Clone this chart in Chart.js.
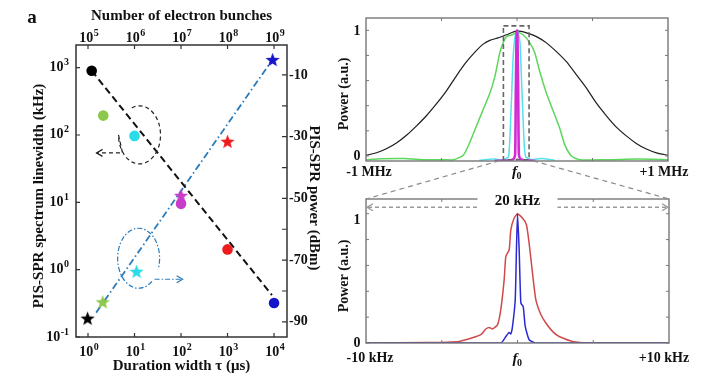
<!DOCTYPE html>
<html><head><meta charset="utf-8">
<script src="https://cdn.jsdelivr.net/npm/chart.js@4.4.0/dist/chart.umd.min.js"></script>
<style>
html,body{margin:0;padding:0;background:#fff;}
#wrap{position:relative;width:701px;height:376px;overflow:hidden;background:#fff;}
#wrap canvas{position:absolute;left:0;top:0;}
</style></head><body>
<div id="wrap">
<canvas id="cLeft" width="701" height="376"></canvas>
<canvas id="cTop" width="701" height="376"></canvas>
<canvas id="cBot" width="701" height="376"></canvas>
</div>
<script>
const FONT = '"Liberation Serif","Times New Roman",serif';

// ---------- Panel a (left) data ----------
const durationCircles = [1.2, 2.13, 10, 100, 1000, 10000];      // τ (µs)
const linewidthKHz   = [900, 194, 97, 9.5, 2.0, 0.32];          // kHz
const durationStars  = [0.98, 2.07, 11.1, 100, 1000, 9300];      // τ (µs)
const powerDBm       = [-88.8, -83.5, -73.6, -49, -31.5, -5];    // dBm
const markerColors   = ['#000000', '#8cc84b', '#2adbe8', '#c83cc8', '#ee1c1c', '#1414c8'];
const linewidthFitX  = [1.2, 9000];
const linewidthFitY  = [900, 0.42];
const powerFitX      = [1.5, 9300];
const powerFitY      = [-87, -5];
const durationTickExp  = [0, 1, 2, 3, 4];
const bunchTickExp     = [5, 6, 7, 8, 9];
const linewidthTickExp = [-1, 0, 1, 2, 3];
const powerTicks       = [-10, -30, -50, -70, -90];
const powerMinorTicks  = [-20, -40, -60, -80];

// ---------- Top-right spectra (MHz offset from f0) ----------
const blackX = [-1.0,-0.93,-0.862,-0.796,-0.73,-0.665,-0.6,-0.53,-0.466,-0.4,-0.334,-0.268,-0.224,-0.18,-0.125,-0.069,0,0.063,0.129,0.195,0.261,0.327,0.394,0.46,0.526,0.592,0.658,0.724,0.79,0.857,0.923,1.0];
const blackY = [0.005,0.026,0.06,0.106,0.167,0.24,0.32,0.42,0.52,0.64,0.75,0.84,0.89,0.92,0.94,0.965,0.995,0.98,0.95,0.9,0.83,0.75,0.645,0.54,0.42,0.32,0.23,0.16,0.1,0.055,0.025,0.005];
const greenX = [-1.0,-0.9,-0.75,-0.6,-0.48,-0.42,-0.356,-0.312,-0.268,-0.224,-0.18,-0.147,-0.114,-0.092,-0.07,-0.03,0,0.04,0.085,0.118,0.151,0.195,0.239,0.283,0.316,0.36,0.415,0.6,0.8,1.0];
const greenY = [-0.03,-0.022,-0.02,-0.03,-0.03,-0.03,0.005,0.11,0.24,0.37,0.5,0.63,0.82,0.9,0.95,0.965,0.985,0.965,0.9,0.82,0.67,0.5,0.36,0.22,0.09,0.0,-0.03,-0.03,-0.025,-0.03];
const cyanX = [-0.25,-0.15,-0.1,-0.07,-0.055,-0.045,-0.035,-0.025,-0.01,0.005,0.02,0.03,0.04,0.05,0.06,0.1,0.16,0.25];
const cyanY = [-0.035,-0.025,-0.03,-0.02,0.0,0.2,0.5,0.8,0.97,0.99,0.9,0.6,0.3,0.05,-0.01,-0.03,-0.02,-0.035];
const magentaX = [-0.15,-0.05,-0.02,-0.012,-0.008,-0.003,0,0.003,0.008,0.012,0.02,0.05,0.12];
const magentaY = [-0.04,-0.035,-0.02,0.02,0.5,0.95,1.0,0.95,0.5,0.02,-0.02,-0.035,-0.04];
const zoomBoxX = [-0.09, 0.08];
const zoomBoxY = [-0.03, 1.035];

// ---------- Bottom-right spectra (kHz offset from f0) ----------
const redX = [-10,-6,-3.85,-2.97,-2.42,-2.09,-1.87,-1.65,-1.32,-1.1,-0.88,-0.77,-0.55,-0.44,-0.22,0,0.33,0.59,0.77,0.99,1.21,1.54,1.87,2.31,2.75,3.63,4.73,7,10];
const redY = [0,0.003,0.012,0.04,0.064,0.108,0.12,0.108,0.14,0.26,0.49,0.67,0.72,0.876,0.967,1.0,0.967,0.915,0.77,0.54,0.335,0.22,0.155,0.09,0.05,0.012,0,0,0];
const blueX = [-10,-1.1,-0.77,-0.55,-0.44,-0.33,-0.15,-0.07,0,0.11,0.22,0.38,0.51,0.77,1.21,10];
const blueY = [0,0,0.05,0.082,0.07,0.128,0.335,0.72,1.0,0.72,0.31,0.28,0.128,0.025,0,0];

const pts = (xs, ys) => xs.map((x, i) => ({x, y: ys[i]}));
const common = {responsive:false, animation:false, events:[], plugins:{legend:{display:false}, tooltip:{enabled:false}}};

function starCanvas(color, R){
  const size = Math.ceil(2*R + 2);
  const c = document.createElement('canvas'); c.width = size; c.height = size;
  const g = c.getContext('2d'); g.fillStyle = color; g.beginPath();
  for (let i = 0; i < 10; i++){
    const r = i % 2 ? R*0.42 : R;
    const ang = -Math.PI/2 + i*Math.PI/5;
    g.lineTo(size/2 + r*Math.cos(ang), size/2 + r*Math.sin(ang) + R*0.1);
  }
  g.closePath(); g.fill();
  return c;
}
const starStyles = markerColors.map(c => starCanvas(c, 7.5));

function drawPow(ctx, exp, x, ymid, align){
  ctx.font = 'bold 14px ' + FONT; const wb = ctx.measureText('10').width;
  ctx.font = 'bold 10px ' + FONT; const e = String(exp); const we = ctx.measureText(e).width;
  const w = wb + we + 0.5;
  const x0 = align === 'center' ? x - w/2 : (align === 'right' ? x - w : x);
  ctx.textAlign = 'left'; ctx.textBaseline = 'alphabetic'; ctx.fillStyle = '#111';
  ctx.font = 'bold 14px ' + FONT; ctx.fillText('10', x0, ymid + 5);
  ctx.font = 'bold 10px ' + FONT; ctx.fillText(e, x0 + wb + 0.5, ymid - 1);
}
function text(ctx, s, x, y, font, align, rot){
  ctx.save(); ctx.translate(x, y); if (rot) ctx.rotate(rot);
  ctx.font = font; ctx.fillStyle = '#111'; ctx.textAlign = align || 'center'; ctx.textBaseline = 'middle';
  ctx.fillText(s, 0, 0); ctx.restore();
}
function fLabel(ctx, x, y){
  ctx.save(); ctx.fillStyle = '#111'; ctx.textBaseline = 'alphabetic'; ctx.textAlign = 'left';
  ctx.font = 'italic bold 15px ' + FONT; const wf = ctx.measureText('f').width;
  ctx.fillText('f', x - (wf + 5)/2, y + 4);
  ctx.font = 'bold 10px ' + FONT; ctx.fillText('0', x - (wf + 5)/2 + wf - 0.5, y + 7);
  ctx.restore();
}
function arrowHead(ctx, x, y, dir){
  ctx.save(); ctx.setLineDash([]); ctx.beginPath();
  ctx.moveTo(x - dir*6, y - 3.5); ctx.lineTo(x, y); ctx.lineTo(x - dir*6, y + 3.5); ctx.stroke(); ctx.restore();
}

// ---------- Left panel plugin ----------
const leftDeco = {
  id: 'leftDeco',
  afterDraw(chart){
    const {ctx, chartArea: a, scales: s} = chart;
    ctx.save();
    ctx.strokeStyle = '#333'; ctx.lineWidth = 1.5; ctx.setLineDash([]);
    ctx.strokeRect(a.left, a.top, a.right - a.left, a.bottom - a.top);
    ctx.lineWidth = 1.2;
    ctx.beginPath();
    durationTickExp.forEach(k => { const x = s.x.getPixelForValue(Math.pow(10, k)); ctx.moveTo(x, a.bottom); ctx.lineTo(x, a.bottom - 4); });
    bunchTickExp.forEach(k => { const x = s.xTop.getPixelForValue(Math.pow(10, k)); ctx.moveTo(x, a.top); ctx.lineTo(x, a.top + 4); });
    linewidthTickExp.forEach(k => { const y = s.y.getPixelForValue(Math.pow(10, k)); ctx.moveTo(a.left, y); ctx.lineTo(a.left + 4, y); });
    powerTicks.concat(powerMinorTicks).forEach(v => { const y = s.y2.getPixelForValue(v); ctx.moveTo(a.right, y); ctx.lineTo(a.right - 5, y); });
    ctx.stroke();
    // tick labels
    durationTickExp.forEach(k => drawPow(ctx, k, s.x.getPixelForValue(Math.pow(10, k)) + 1, 351, 'center'));
    bunchTickExp.forEach(k => drawPow(ctx, k, s.xTop.getPixelForValue(Math.pow(10, k)) + 1, 37, 'center'));
    linewidthTickExp.forEach(k => drawPow(ctx, k, 69, s.y.getPixelForValue(Math.pow(10, k)) - 1.5, 'right'));
    powerTicks.forEach(v => text(ctx, String(v), a.right + 2, s.y2.getPixelForValue(v), 'bold 14px ' + FONT, 'left'));
    // titles
    text(ctx, 'a', 32, 18, 'bold 19px ' + FONT, 'center');
    text(ctx, 'Number of electron bunches', (a.left + a.right)/2, 16, 'bold 15px ' + FONT, 'center');
    text(ctx, 'Duration width \u03C4 (\u03BCs)', (a.left + a.right)/2, 366, 'bold 15px ' + FONT, 'center');
    text(ctx, 'PIS-SPR spectrum linewidth (kHz)', 39, 196, 'bold 15px ' + FONT, 'center', -Math.PI/2);
    text(ctx, 'PIS-SPR power (dBm)', 314, 198, 'bold 15px ' + FONT, 'center', Math.PI/2);
    // annotation loops
    const cx1 = s.x.getPixelForValue(durationCircles[2]) + 5, cy1 = s.y.getPixelForValue(linewidthKHz[2]) - 1;
    ctx.strokeStyle = '#222'; ctx.lineWidth = 1.2; ctx.setLineDash([4, 3]);
    ctx.beginPath(); ctx.ellipse(cx1, cy1, 21, 29, 0, -Math.PI*0.62, Math.PI*1.0); ctx.stroke();
    ctx.beginPath(); ctx.moveTo(cx1 - 21, cy1); ctx.lineTo(cx1 - 17, cy1 + 18); ctx.lineTo(cx1 - 43, cy1 + 18); ctx.stroke();
    arrowHead(ctx, cx1 - 43, cy1 + 18, -1);
    const cx2 = s.x.getPixelForValue(durationStars[2]) + 2, cy2 = s.y2.getPixelForValue(powerDBm[2]) - 13;
    ctx.strokeStyle = '#2b7bba'; ctx.setLineDash([5, 2, 1.5, 2]);
    ctx.beginPath(); ctx.ellipse(cx2, cy2, 21, 30, 0, Math.PI*0.28, Math.PI*2.1); ctx.stroke();
    ctx.beginPath(); ctx.moveTo(cx2 + 16, cy2 + 21); ctx.lineTo(cx2 + 44, cy2 + 21); ctx.stroke();
    arrowHead(ctx, cx2 + 44, cy2 + 21, 1);
    ctx.restore();
  }
};

const leftChart = new Chart(document.getElementById('cLeft'), {
  type: 'scatter',
  data: {datasets: [
    {label: 'linewidth', data: pts(durationCircles, linewidthKHz), xAxisID: 'x', yAxisID: 'y', order: 0,
     pointRadius: 5.3, pointBackgroundColor: markerColors, pointBorderColor: markerColors, pointBorderWidth: 0},
    {label: 'power', data: pts(durationStars, powerDBm), xAxisID: 'x', yAxisID: 'y2', order: 0,
     pointStyle: starStyles, pointRadius: 7},
    {type: 'line', label: 'linewidth fit', data: pts(linewidthFitX, linewidthFitY), xAxisID: 'x', yAxisID: 'y', order: 2,
     borderColor: '#111', borderWidth: 2, borderDash: [7, 4], pointRadius: 0, fill: false},
    {type: 'line', label: 'power fit', data: pts(powerFitX, powerFitY), xAxisID: 'x', yAxisID: 'y2', order: 2,
     borderColor: '#2b7bba', borderWidth: 1.8, borderDash: [7, 3, 1.5, 3], pointRadius: 0, fill: false}
  ]},
  options: {...common, layout: {padding: {left: 76, top: 45, right: 414, bottom: 39}},
    scales: {
      x: {type: 'logarithmic', min: 0.552, max: 19000, display: false},
      xTop: {type: 'logarithmic', axis: 'x', min: 0.552e5, max: 1.9e9, display: false, position: 'top'},
      y: {type: 'logarithmic', min: 0.1, max: 2170, display: false},
      y2: {type: 'linear', min: -94.9, max: -0.3, display: false, position: 'right'}
    }},
  plugins: [leftDeco]
});

// ---------- Right panels common frame ----------
function frameAndTicks(ctx, a, s, xTicks){
  ctx.save();
  ctx.strokeStyle = '#777'; ctx.lineWidth = 1.4; ctx.setLineDash([]);
  ctx.strokeRect(a.left, a.top, a.right - a.left, a.bottom - a.top);
  ctx.lineWidth = 1; ctx.beginPath();
  xTicks.forEach(v => { const x = s.x.getPixelForValue(v);
    ctx.moveTo(x, a.top); ctx.lineTo(x, a.top + 3); ctx.moveTo(x, a.bottom); ctx.lineTo(x, a.bottom - 3); });
  [0, 0.2, 0.4, 0.6, 0.8, 1].forEach(v => { const y = s.y.getPixelForValue(v);
    ctx.moveTo(a.left, y); ctx.lineTo(a.left + 3, y); ctx.moveTo(a.right, y); ctx.lineTo(a.right - 3, y); });
  ctx.stroke(); ctx.restore();
}

const topDeco = {
  id: 'topDeco',
  afterDatasetsDraw(chart){
    const {ctx, scales: s} = chart;
    ctx.save(); ctx.strokeStyle = '#666'; ctx.lineWidth = 1.6; ctx.setLineDash([5, 3]);
    const x0 = s.x.getPixelForValue(zoomBoxX[0]), x1 = s.x.getPixelForValue(zoomBoxX[1]);
    const y0 = s.y.getPixelForValue(zoomBoxY[1]), y1 = s.y.getPixelForValue(zoomBoxY[0]);
    ctx.strokeRect(x0, y0, x1 - x0, y1 - y0); ctx.restore();
  },
  afterDraw(chart){
    const {ctx, chartArea: a, scales: s} = chart;
    frameAndTicks(ctx, a, s, [-0.5, 0, 0.5]);
    text(ctx, '1', 357, s.y.getPixelForValue(1) + 1, 'bold 14px ' + FONT, 'center');
    text(ctx, '0', 357, s.y.getPixelForValue(0), 'bold 14px ' + FONT, 'center');
    text(ctx, '-1 MHz', a.left + 3, 172, 'bold 14px ' + FONT, 'center');
    text(ctx, '+1 MHz', a.right - 4, 172, 'bold 14px ' + FONT, 'center');
    fLabel(ctx, s.x.getPixelForValue(0), 172);
    text(ctx, 'Power (a.u.)', 344, 94, 'bold 14px ' + FONT, 'center', -Math.PI/2);
  }
};

const topChart = new Chart(document.getElementById('cTop'), {
  type: 'line',
  data: {datasets: [
    {label: 'magenta', data: pts(magentaX, magentaY), borderColor: '#d42ad4', borderWidth: 2.6, order: 0},
    {label: 'cyan', data: pts(cyanX, cyanY), borderColor: '#55e0ea', borderWidth: 1.5, order: 1},
    {label: 'green', data: pts(greenX, greenY), borderColor: '#5cd65c', borderWidth: 1.5, order: 2},
    {label: 'black', data: pts(blackX, blackY), borderColor: '#1e1e1e', borderWidth: 1.2, order: 3}
  ]},
  options: {...common, layout: {padding: {left: 366, top: 18, right: 33, bottom: 215}},
    elements: {point: {radius: 0}, line: {tension: 0.2, fill: false}},
    scales: {x: {type: 'linear', min: -1, max: 1, display: false}, y: {type: 'linear', min: -0.04, max: 1.098, display: false}}},
  plugins: [topDeco]
});

const botDeco = {
  id: 'botDeco',
  afterDraw(chart){
    const {ctx, chartArea: a, scales: s} = chart;
    frameAndTicks(ctx, a, s, [-5, 0, 5]);
    text(ctx, '1', 357, s.y.getPixelForValue(1) + 7, 'bold 14px ' + FONT, 'center');
    text(ctx, '0', 357, s.y.getPixelForValue(0), 'bold 14px ' + FONT, 'center');
    text(ctx, '-10 kHz', a.left + 4, 358, 'bold 14px ' + FONT, 'center');
    text(ctx, '+10 kHz', a.right - 5, 358, 'bold 14px ' + FONT, 'center');
    fLabel(ctx, s.x.getPixelForValue(0), 359);
    text(ctx, 'Power (a.u.)', 344, 276, 'bold 14px ' + FONT, 'center', -Math.PI/2);
    // zoom connectors from top panel box
    const ts = topChart.scales;
    ctx.save(); ctx.strokeStyle = '#8a8a8a'; ctx.lineWidth = 1.2; ctx.setLineDash([5, 4]);
    ctx.beginPath();
    ctx.moveTo(ts.x.getPixelForValue(zoomBoxX[0]) - 4, ts.y.getPixelForValue(zoomBoxY[0]) + 1); ctx.lineTo(a.left, a.top);
    ctx.moveTo(ts.x.getPixelForValue(zoomBoxX[1]) + 4, ts.y.getPixelForValue(zoomBoxY[0]) + 1); ctx.lineTo(a.right, a.top);
    ctx.stroke();
    // 20 kHz span arrow
    const ya = s.y.getPixelForValue(1.05);
    ctx.strokeStyle = '#999'; ctx.lineWidth = 1.3; ctx.setLineDash([4, 3]);
    ctx.beginPath(); ctx.moveTo(a.left + 2, ya); ctx.lineTo(a.right - 2, ya); ctx.stroke();
    arrowHead(ctx, a.left + 1, ya, -1); arrowHead(ctx, a.right - 1, ya, 1);
    const cx = s.x.getPixelForValue(0);
    ctx.fillStyle = '#fff'; ctx.fillRect(cx - 40, a.top - 6, 80, 19);
    ctx.restore();
    text(ctx, '20 kHz', cx, a.top + 2, 'bold 15px ' + FONT, 'center');
  }
};

const botChart = new Chart(document.getElementById('cBot'), {
  type: 'line',
  data: {datasets: [
    {label: 'blue', data: pts(blueX, blueY), borderColor: '#2a2ad2', borderWidth: 1.5, order: 0},
    {label: 'red', data: pts(redX, redY), borderColor: '#d04a4a', borderWidth: 1.5, order: 1}
  ]},
  options: {...common, layout: {padding: {left: 366, top: 199, right: 32, bottom: 33}},
    elements: {point: {radius: 0}, line: {tension: 0.15, fill: false}},
    scales: {x: {type: 'linear', min: -10, max: 10, display: false}, y: {type: 'linear', min: 0, max: 1.114, display: false}}},
  plugins: [botDeco]
});
</script>
</body></html>
